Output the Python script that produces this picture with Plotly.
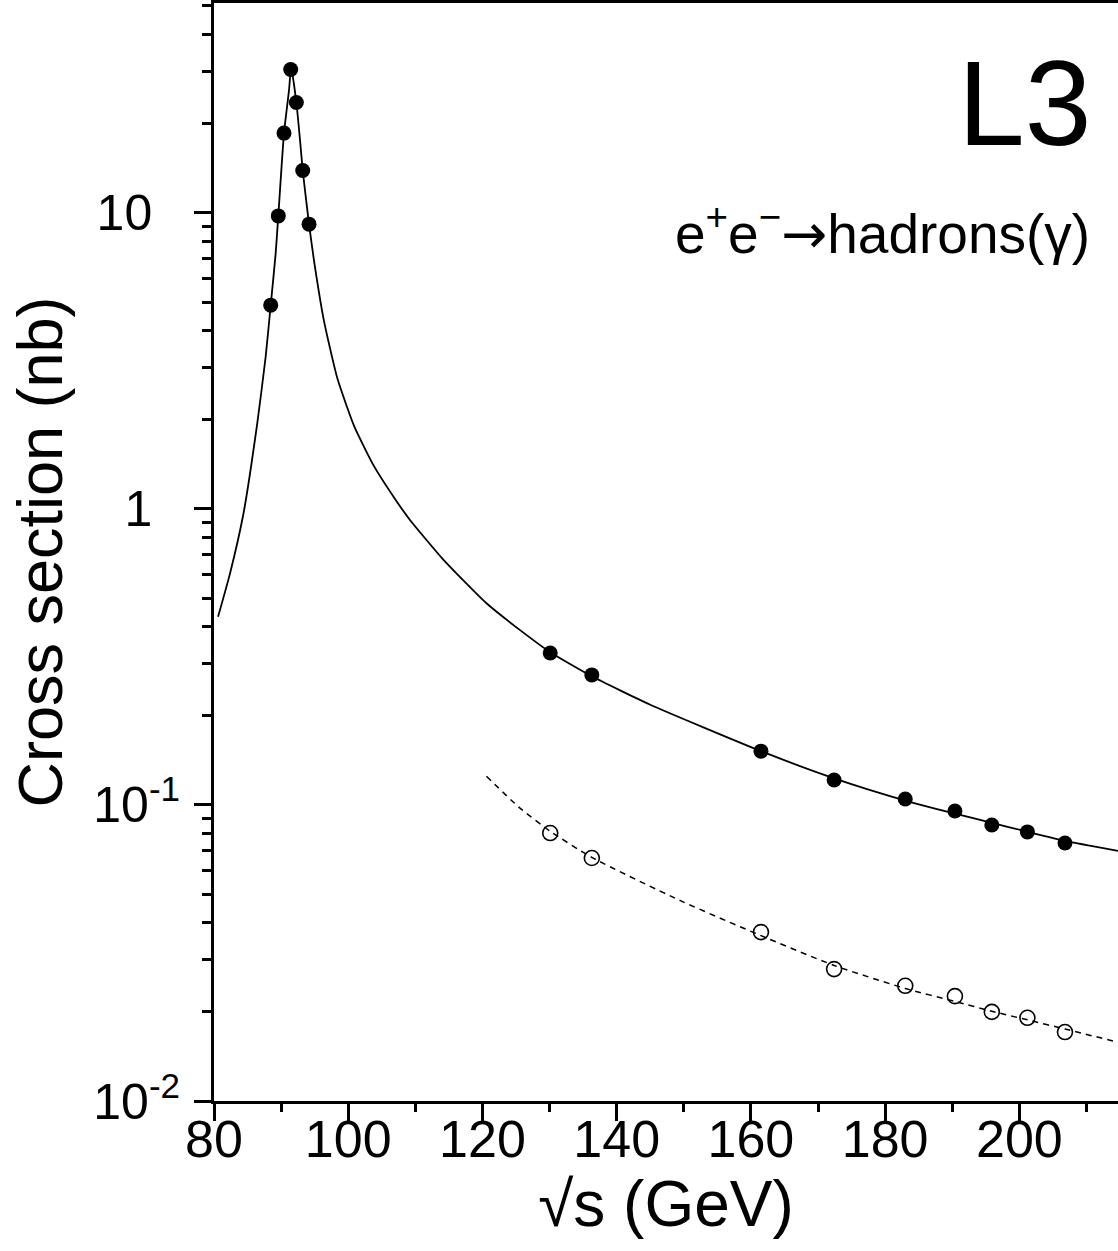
import plotly.graph_objects as go

# ---- data ----
# measured hadronic cross sections, full sample (filled points)
x_all = [88.45, 89.58, 90.43, 91.43, 92.27, 93.22, 94.16,
         130.1, 136.3, 161.5, 172.4, 183.0, 190.4, 195.9, 201.2, 206.8]
y_all = [4.88, 9.77, 18.6, 30.5, 23.6, 13.9, 9.16,
         0.326, 0.275, 0.152, 0.1215, 0.1047, 0.0954, 0.0856, 0.0811, 0.0744]

# high-energy sample, open points
x_hi = [130.1, 136.3, 161.5, 172.4, 183.0, 190.4, 195.9, 201.2, 206.8]
y_hi = [0.0804, 0.0662, 0.0372, 0.0279, 0.0245, 0.0226, 0.0200, 0.0191, 0.0171]

# theory curve (solid)
x_th = [80.6, 82.4, 84.4, 86.45, 87.7, 88.45, 89.19, 89.58, 90.43, 91.18, 91.5,
        92.27, 92.82, 93.22, 94.16, 94.9, 96.4, 98.4, 100.9, 103.8, 107.1,
        109.2, 114.2, 120.6, 126.1, 130.1, 136.3, 145.0, 161.5, 172.4,
        183.0, 190.4, 195.9, 201.2, 206.8, 214.7]
y_th = [0.432, 0.607, 0.967, 1.95, 3.27, 4.88, 7.31, 9.77, 18.6, 26.0, 31.0,
        23.6, 17.6, 13.9, 9.16, 6.9, 4.3, 2.75, 1.90, 1.40, 1.07,
        0.918, 0.673, 0.480, 0.382, 0.328, 0.272, 0.218, 0.152, 0.123,
        0.1035, 0.0935, 0.0870, 0.0812, 0.0757, 0.0700]

# theory curve (dashed)
x_th_hi = [120.6, 125.5, 130.1, 136.3, 149.5, 161.5, 172.4, 183.0, 190.4, 195.9, 201.2, 206.8, 214.7]
y_th_hi = [0.125, 0.098, 0.0815, 0.0665, 0.0475, 0.0362, 0.0287, 0.0240, 0.0217, 0.0201, 0.0188, 0.0175, 0.0158]

x_major = [80, 100, 120, 140, 160, 180, 200]
x_minor = [90, 110, 130, 150, 170, 190, 210]
y_major = [0.01, 0.1, 1, 10]
PAD = "\u00a0\u00a0"
y_major_text = ["10<sup>-2</sup>", "10<sup>-1</sup>", "1" + PAD, "10" + PAD]
y_minor = [m * 10 ** k for k in (-2, -1, 0, 1) for m in range(2, 10) if m * 10 ** k < 52]

FONT = "Liberation Sans, Arial, sans-serif"

fig = go.Figure()
fig.add_trace(go.Scatter(x=x_th, y=y_th, mode="lines",
                         line=dict(color="black", width=1.8, shape="spline", smoothing=0.5),
                         showlegend=False, hoverinfo="skip"))
fig.add_trace(go.Scatter(x=x_th_hi, y=y_th_hi, mode="lines",
                         line=dict(color="black", width=1.5, dash="6px,5px", shape="spline", smoothing=0.6),
                         showlegend=False, hoverinfo="skip"))
fig.add_trace(go.Scatter(x=x_all, y=y_all, mode="markers",
                         marker=dict(symbol="circle", size=15, color="black"),
                         showlegend=False))
fig.add_trace(go.Scatter(x=x_hi, y=y_hi, mode="markers",
                         marker=dict(symbol="circle-open", size=15, color="black",
                                     line=dict(width=1.6, color="black")),
                         showlegend=False))

fig.add_annotation(text="L3", xref="paper", yref="paper", x=1.0, y=1.0,
                   xanchor="right", yanchor="top", xshift=-25, yshift=-31,
                   showarrow=False, font=dict(family=FONT, size=120, color="black"))
fig.add_annotation(text="e<sup>+</sup>e<sup>\u2212</sup><span style=\"font-family:'DejaVu Sans'\">\u2192</span>hadrons(\u03b3)",
                   xref="paper", yref="paper", x=1.0, y=1.0,
                   xanchor="right", yanchor="top", xshift=-26, yshift=-190,
                   showarrow=False, font=dict(family=FONT, size=55, color="black"))

fig.update_layout(
    width=1118, height=1251,
    margin=dict(l=214, r=0, t=3, b=150),
    paper_bgcolor="white", plot_bgcolor="white",
    font=dict(family=FONT, color="black"),
    xaxis=dict(
        range=[80, 214.7], showgrid=False, zeroline=False, automargin=False,
        showline=True, linewidth=3, linecolor="black", mirror=True,
        ticks="outside", ticklen=17, tickwidth=2.5, tickcolor="black",
        tickmode="array", tickvals=x_major,
        tickfont=dict(size=52, family=FONT), ticklabelstandoff=-26,
        minor=dict(tickvals=x_minor, ticks="outside", ticklen=8, tickwidth=2.5, tickcolor="black"),
        title=dict(text="\u221as (GeV)", font=dict(size=64, family=FONT), standoff=14),
    ),
    yaxis=dict(
        type="log", range=[-2, 1.709], showgrid=False, zeroline=False, automargin=False,
        showline=True, linewidth=3, linecolor="black",
        ticks="outside", ticklen=17, tickwidth=2.5, tickcolor="black",
        tickmode="array", tickvals=y_major, ticktext=y_major_text,
        tickfont=dict(size=50, family=FONT), ticklabelstandoff=4,
        minor=dict(tickvals=y_minor, ticks="outside", ticklen=9, tickwidth=2.5, tickcolor="black"),
        title=dict(text="Cross section (nb)", font=dict(size=63, family=FONT), standoff=11),
    ),
)

fig.write_html("out.html", config={"displayModeBar": False},
               post_script="document.body.style.margin='0';document.body.style.padding='0';")
